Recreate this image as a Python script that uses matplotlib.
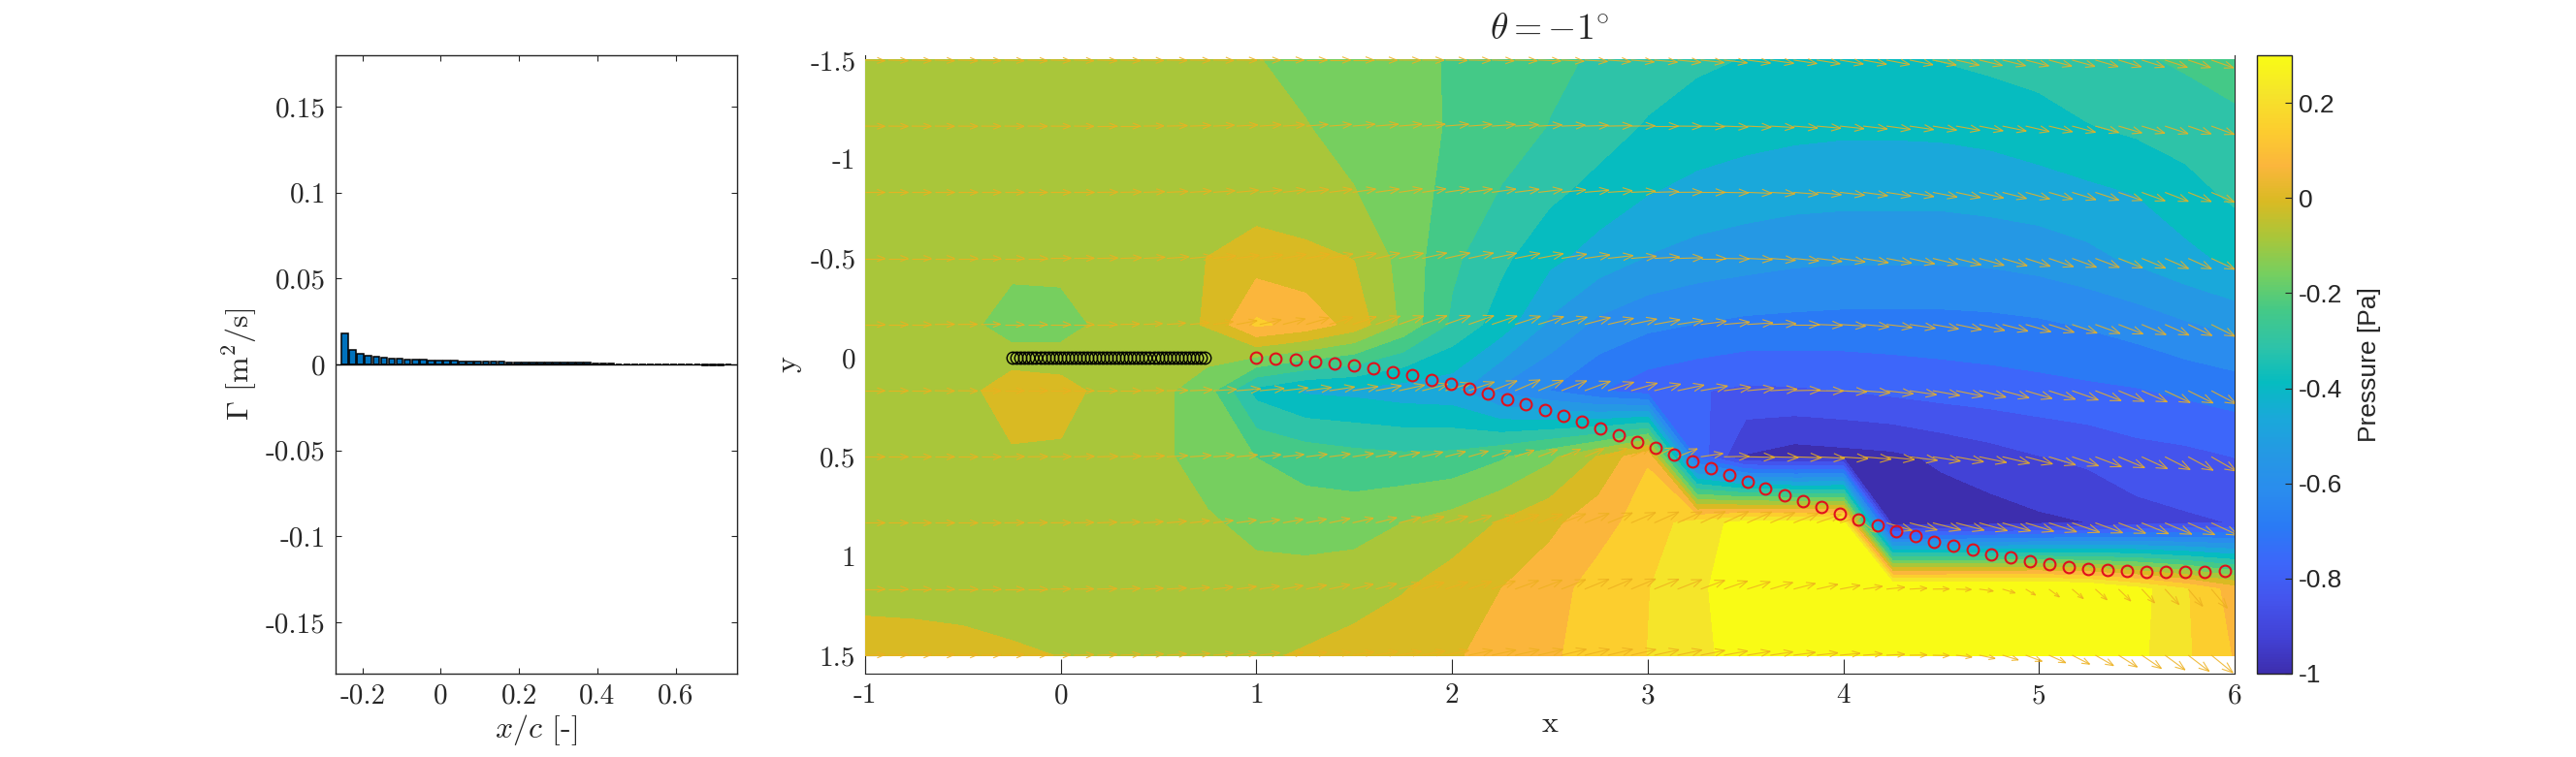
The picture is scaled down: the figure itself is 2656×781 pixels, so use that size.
import numpy as np
import matplotlib
matplotlib.use('Agg')
import matplotlib.pyplot as plt
from matplotlib.collections import LineCollection
from matplotlib.colors import LinearSegmentedColormap, Normalize
from matplotlib.cm import ScalarMappable

W, H = 2656, 781

# Circulation on the plate panels
gamma = [0.0179, 0.0085, 0.0062, 0.0051, 0.0045, 0.0041, 0.0036, 0.0036, 0.0030, 0.0030,
         0.0030, 0.0025, 0.0025, 0.0025, 0.0025, 0.0019, 0.0019, 0.0019, 0.0019, 0.0019,
         0.0019, 0.0014, 0.0014, 0.0014, 0.0014, 0.0014, 0.0011, 0.0011, 0.0011, 0.0011,
         0.0011, 0.0011, 0.0007, 0.0006, 0.0006, 0, 0, 0, 0, 0,
         0, 0, 0, 0, 0, 0, -0.0006, -0.0006, -0.0006, 0]
plate_x = np.linspace(-0.245, 0.735, 50)

# Wake vortices
wake_x = [1.0, 1.099, 1.2, 1.301, 1.4, 1.499, 1.597, 1.696, 1.795, 1.894, 1.992, 2.089, 2.185,
          2.281, 2.377, 2.473, 2.57, 2.663, 2.759, 2.853, 2.946, 3.04, 3.134, 3.23, 3.321, 3.415,
          3.509, 3.603, 3.7, 3.794, 3.888, 3.981, 4.078, 4.175, 4.272, 4.368, 4.462, 4.562, 4.659,
          4.755, 4.855, 4.952, 5.051, 5.151, 5.25, 5.35, 5.449, 5.549, 5.649, 5.748, 5.848, 5.95]
wake_y = [-0.002, 0.004, 0.01, 0.018, 0.029, 0.041, 0.055, 0.074, 0.09, 0.112, 0.133, 0.155, 0.182,
          0.209, 0.237, 0.264, 0.295, 0.325, 0.358, 0.389, 0.423, 0.454, 0.489, 0.524, 0.556, 0.591,
          0.624, 0.659, 0.694, 0.724, 0.755, 0.786, 0.816, 0.845, 0.876, 0.9, 0.927, 0.949, 0.97,
          0.99, 1.009, 1.025, 1.041, 1.054, 1.064, 1.07, 1.076, 1.08, 1.082, 1.082, 1.08, 1.076]

# Pressure field, one list per row
field_x = [-1, -0.75, -0.5, -0.25, 0, 0.25, 0.5, 0.75, 1, 1.25, 1.5, 1.75, 2, 2.25, 2.5, 2.75, 3,
           3.25, 3.5, 3.75, 4, 4.25, 4.5, 4.75, 5, 5.25, 5.5, 5.75, 6]
field_y = [-1.5, -1.167, -0.833, -0.5, -0.167, 0.167, 0.5, 0.833, 1.167, 1.5]
p_row0 = [-.045, -.045, -.045, -.045, -.045, -.045, -.045, -.045, -.08, -.10, -.12, -.14, -.165, -.19, -.22,
          -.245, -.27, -.30, -.315, -.32, -.325, -.32, -.31, -.295, -.28, -.26, -.245, -.225, -.20]
p_row1 = [-.045, -.045, -.045, -.045, -.045, -.045, -.045, -.045, -.055, -.08, -.105, -.135, -.165, -.20, -.238,
          -.275, -.32, -.345, -.36, -.37, -.375, -.375, -.372, -.365, -.345, -.315, -.295, -.275, -.255]
p_row2 = [-.045, -.045, -.045, -.045, -.045, -.045, -.045, -.045, -.045, -.06, -.08, -.125, -.18, -.24, -.295,
          -.34, -.385, -.41, -.425, -.435, -.44, -.44, -.44, -.43, -.42, -.405, -.385, -.34, -.295]
p_row3 = [-.045, -.045, -.045, -.05, -.05, -.045, -.045, -.005, .03, .015, -.008, -.11, -.22, -.295, -.37,
          -.425, -.47, -.495, -.51, -.525, -.53, -.53, -.53, -.525, -.51, -.485, -.45, -.41, -.37]
p_row4 = [-.045, -.045, -.05, -.135, -.125, -.05, -.04, .0, .16, .12, .04, -.10, -.25, -.35, -.48,
          -.56, -.60, -.62, -.635, -.64, -.645, -.645, -.645, -.64, -.63, -.61, -.585, -.55, -.52]
p_row5 = [-.045, -.045, -.04, .05, .03, -.04, -.06, -.13, -.34, -.40, -.41, -.43, -.44, -.56, -.62,
          -.69, -.74, -.765, -.785, -.78, -.77, -.755, -.74, -.73, -.72, -.71, -.70, -.68, -.66]
p_row6 = [-.045, -.045, -.04, -.02, -.02, -.04, -.06, -.13, -.16, -.19, -.21, -.22, -.215, -.17, -.10,
          -.0, .14, -.72, -.93, -.96, -.95, -.94, -.91, -.88, -.85, -.83, -.80, -.79, -.77]
p_row7 = [-.045, -.045, -.045, -.045, -.045, -.045, -.045, -.07, -.11, -.12, -.115, -.082, -.05, .0, .05,
          .12, .18, .26, .33, .34, .33, -.97, -.97, -.96, -.94, -.924, -.88, -.86, -.845]
p_row8 = [-.045, -.045, -.045, -.045, -.045, -.045, -.045, -.045, -.045, -.045, -.035, -.01, .03, .07, .12,
          .175, .22, .28, .36, .42, .45, .45, .45, .45, .45, .42, .33, .23, .11]
p_row9 = [.05, .04, .025, .005, -.008, -.04, -.04, -.03, -.015, .0, .02, .04, .06, .10, .135,
          .18, .224, .275, .34, .37, .37, .37, .37, .37, .37, .36, .32, .235, .14]

# Velocity arrows, hundredths, 60 columns on each of the field rows
u_rows = [
    [85, 85, 85, 85, 85, 85, 85, 85, 85, 85, 85, 86, 86, 87, 87, 88, 88, 89, 90, 90,
     91, 92, 92, 93, 94, 94, 95, 96, 96, 97, 97, 98, 98, 99, 99, 100, 100, 100, 100, 100,
     100, 100, 100, 100, 100, 100, 100, 99, 99, 99, 99, 98, 98, 98, 97, 97, 96, 96, 95, 95],
    [85, 85, 85, 85, 85, 85, 85, 85, 85, 85, 85, 86, 87, 88, 89, 90, 91, 92, 93, 94,
     95, 96, 97, 98, 99, 100, 100, 101, 101, 102, 102, 102, 103, 103, 103, 103, 103, 103, 103, 103,
     103, 103, 103, 103, 103, 103, 102, 102, 102, 102, 101, 101, 100, 100, 100, 99, 99, 98, 98, 97],
    [85, 85, 85, 85, 85, 85, 85, 85, 86, 87, 88, 89, 90, 91, 92, 93, 94, 95, 96, 97,
     98, 99, 100, 100, 101, 102, 102, 103, 103, 104, 104, 104, 105, 105, 105, 105, 105, 105, 105, 105,
     105, 105, 105, 105, 105, 104, 104, 104, 104, 103, 103, 102, 102, 101, 101, 100, 100, 99, 98, 98],
    [85, 85, 85, 85, 85, 85, 86, 86, 87, 87, 88, 90, 92, 94, 95, 96, 97, 98, 99, 100,
     101, 102, 103, 104, 105, 105, 106, 106, 107, 107, 108, 108, 108, 108, 108, 108, 108, 108, 108, 108,
     108, 108, 108, 108, 108, 107, 107, 107, 106, 106, 105, 105, 104, 103, 103, 102, 101, 100, 100, 99],
    [85, 85, 85, 85, 83, 83, 83, 84, 85, 85, 85, 82, 80, 80, 82, 85, 88, 92, 95, 98,
     100, 102, 104, 105, 106, 107, 108, 108, 109, 109, 110, 110, 110, 110, 110, 110, 110, 110, 110, 110,
     110, 110, 110, 110, 110, 110, 110, 109, 109, 109, 108, 108, 107, 106, 105, 104, 103, 102, 101, 100],
    [85, 85, 85, 85, 84, 84, 84, 85, 85, 85, 86, 86, 87, 90, 95, 100, 103, 105, 107, 108,
     108, 109, 110, 110, 110, 110, 110, 108, 108, 108, 108, 110, 111, 112, 113, 114, 115, 115, 115, 115,
     115, 115, 115, 115, 115, 115, 115, 115, 114, 114, 113, 113, 112, 111, 110, 109, 108, 107, 106, 105],
    [85, 85, 85, 85, 85, 85, 86, 86, 87, 87, 88, 88, 89, 89, 90, 90, 90, 90, 90, 90,
     90, 90, 90, 89, 88, 86, 84, 83, 82, 82, 82, 82, 82, 82, 82, 85, 95, 108, 118, 120,
     120, 120, 120, 120, 120, 119, 118, 118, 117, 116, 115, 114, 113, 112, 112, 110, 108, 107, 106, 105],
    [85, 85, 85, 85, 85, 85, 85, 85, 85, 84, 84, 84, 84, 84, 84, 85, 85, 86, 86, 87,
     88, 89, 90, 92, 94, 96, 98, 100, 102, 103, 104, 105, 105, 105, 105, 105, 105, 105, 105, 105,
     105, 105, 95, 55, 110, 118, 120, 120, 120, 120, 120, 119, 118, 117, 116, 115, 115, 114, 114, 113],
    [85, 85, 85, 85, 85, 85, 85, 85, 85, 85, 84, 84, 84, 84, 84, 84, 85, 85, 86, 87,
     88, 89, 90, 92, 94, 96, 98, 100, 101, 102, 103, 104, 105, 105, 105, 104, 103, 101, 99, 96,
     93, 90, 86, 82, 78, 74, 70, 65, 60, 54, 42, 45, 48, 50, 52, 55, 60, 62, 68, 75],
    [85, 85, 85, 85, 85, 85, 85, 85, 85, 85, 85, 85, 85, 85, 85, 85, 86, 86, 87, 88,
     90, 92, 94, 96, 98, 100, 102, 103, 104, 105, 106, 106, 106, 106, 105, 104, 103, 101, 99, 96,
     93, 90, 86, 82, 78, 74, 70, 68, 68, 68, 70, 72, 75, 78, 80, 84, 86, 90, 92, 96],
]
v_rows = [
    [3, 3, 3, 3, 3, 3, 3, 3, 3, 3, 3, 3, 2, 2, 2, 2, 1, 1, 0, 0,
     0, 0, 1, 1, 1, 2, 2, 3, 3, 4, 5, 6, 7, 8, 9, 10, 11, 12, 13, 14,
     15, 16, 17, 18, 19, 20, 21, 22, 23, 24, 25, 26, 27, 28, 29, 30, 31, 32, 33, 34],
    [1, 1, 1, 1, 1, 1, 1, 1, 1, 1, 0, 0, -1, -2, -3, -4, -5, -6, -6, -7,
     -7, -8, -8, -8, -8, -8, -7, -7, -6, -5, -4, -3, -2, -1, 0, 1, 2, 4, 5, 6,
     8, 9, 11, 12, 14, 15, 17, 18, 20, 21, 23, 24, 26, 27, 29, 30, 32, 33, 35, 36],
    [0, 0, 0, 0, 0, 0, 0, 0, 0, 0, -1, -2, -3, -4, -6, -7, -9, -10, -11, -12,
     -13, -14, -14, -15, -15, -15, -14, -14, -13, -12, -11, -9, -7, -5, -3, -1, 0, 2, 4, 6,
     8, 10, 12, 14, 16, 18, 20, 22, 24, 26, 28, 29, 31, 33, 34, 36, 38, 39, 41, 42],
    [0, 0, 0, 0, 0, 0, 0, 0, -1, -1, -2, -3, -5, -7, -9, -11, -13, -15, -17, -18,
     -19, -21, -22, -22, -23, -23, -23, -22, -21, -20, -18, -15, -12, -9, -6, -3, 0, 2, 5, 8,
     10, 13, 15, 18, 20, 23, 25, 27, 29, 31, 33, 35, 37, 38, 40, 41, 43, 44, 46, 47],
    [0, 0, 0, -1, -1, -1, 0, 0, 0, 0, 0, -2, -4, -6, -8, -12, -16, -20, -24, -28,
     -31, -33, -35, -36, -37, -37, -37, -36, -35, -33, -31, -29, -26, -23, -20, -17, -14, -10, -7, -4,
     0, 4, 7, 10, 13, 16, 19, 22, 25, 28, 31, 33, 36, 38, 40, 43, 45, 47, 50, 52],
    [0, 0, 0, 1, 1, 1, 0, 0, 0, 0, 0, 0, -1, -2, -4, -6, -8, -10, -12, -14,
     -16, -18, -21, -24, -28, -32, -37, -42, -46, -44, -42, -40, -36, -32, -28, -24, -20, -15, -11, -7,
     -3, 1, 5, 9, 13, 17, 20, 23, 27, 30, 33, 36, 39, 42, 45, 47, 50, 52, 55, 57],
    [0, 0, 0, 0, 0, 0, -1, -1, -1, -2, -2, -3, -4, -5, -6, -7, -8, -9, -10, -11,
     -12, -14, -16, -18, -20, -22, -24, -26, -28, -30, -32, -34, -36, -38, -38, -34, -14, -2, 2, 3,
     4, 6, 8, 10, 12, 15, 18, 21, 24, 27, 30, 34, 38, 42, 46, 50, 54, 57, 60, 63],
    [0, 0, 0, 0, 0, 0, -1, -1, -1, -2, -3, -4, -5, -7, -9, -10, -12, -13, -15, -16,
     -18, -20, -22, -24, -26, -28, -30, -32, -34, -36, -38, -40, -42, -44, -46, -47, -48, -48, -46, -44,
     -40, -36, -30, 40, 32, 30, 30, 31, 33, 34, 36, 38, 40, 42, 44, 46, 48, 50, 52, 54],
    [0, 0, 0, 0, 0, 0, 0, 0, -1, -1, -2, -3, -4, -5, -7, -9, -11, -13, -15, -17,
     -19, -21, -23, -26, -28, -30, -32, -34, -36, -38, -40, -42, -43, -43, -42, -40, -37, -34, -31, -28,
     -24, -20, -16, -12, -8, -4, -1, 2, 8, 16, 25, 33, 40, 45, 50, 58, 65, 72, 80, 88],
    [-2, -2, -2, -2, -2, -2, -2, -2, -2, -2, -3, -4, -5, -6, -7, -8, -9, -10, -11, -12,
     -13, -14, -15, -16, -18, -20, -21, -22, -23, -24, -25, -25, -25, -24, -23, -22, -20, -18, -16, -14,
     -12, -10, -8, -6, -4, -1, 2, 8, 14, 20, 26, 32, 38, 44, 50, 56, 62, 68, 74, 80],
]

# Colours of the filled bands, bottom to top
band_colors = ['#3d2eae', '#4242d6', '#4454ed', '#3d66fa', '#2a7af5', '#2a8cee', '#2598e4', '#1aa8da', '#06bcc0',
               '#2ec3a8', '#44c987', '#76cf5f', '#a9c63a', '#d9ba23', '#fbb63c', '#fcce2e', '#f5e52a', '#f9fb15']
cbar_ticks = [-1, -0.8, -0.6, -0.4, -0.2, 0, 0.2]
cbar_labels = ['-1', '-0.8', '-0.6', '-0.4', '-0.2', '0', '0.2']

line_col = '#262626'
serif = ['cmr10', 'DejaVu Serif']
plt.rcParams['mathtext.fontset'] = 'cm'
plt.rcParams['axes.unicode_minus'] = False
plt.rcParams['axes.formatter.use_mathtext'] = True


def px_axes(x0, x1, y0, y1):
    return fig.add_axes([x0 / W, 1 - y1 / H, (x1 - x0) / W, (y1 - y0) / H])


def arrow_segments(x, y, u, v):
    segs = []
    for xi, yi, ui, vi in zip(x, y, u, v):
        tip = np.array([xi + ui, yi + vi])
        back = np.array([-ui, -vi]) * 0.42
        for ang in (0.36, -0.36):
            c, s = np.cos(ang), np.sin(ang)
            barb = tip + [c * back[0] - s * back[1], s * back[0] + c * back[1]]
            segs.append([tip, barb])
        segs.append([[xi, yi], tip])
    return segs


fig = plt.figure(figsize=(W / 100, H / 100), dpi=100)

# Gamma bars
ax1 = px_axes(345.5, 760, 57, 695)
ax1.bar(plate_x, gamma, width=0.0165, color='#0072BD', edgecolor='black', linewidth=1.1)
ax1.axhline(0, color='black', lw=1.0)
ax1.set_xlim(-0.27, 0.757)
ax1.set_ylim(-0.18, 0.18)
ax1.set_xticks([-0.2, 0, 0.2, 0.4, 0.6])
ax1.set_xticklabels(['-0.2', '0', '0.2', '0.4', '0.6'], family=serif, fontsize=21)
ax1.set_yticks([-0.15, -0.1, -0.05, 0, 0.05, 0.1, 0.15])
ax1.set_yticklabels(['-0.15', '-0.1', '-0.05', '0', '0.05', '0.1', '0.15'], family=serif, fontsize=21)
ax1.tick_params(direction='in', top=True, right=True, length=4.5, width=0.8, color=line_col,
                labelcolor=line_col, pad=7)
ax1.set_xlabel(r'$x/c$ [-]', family=serif, fontsize=23, color=line_col, labelpad=3)
ax1.set_ylabel(r'$\Gamma$ [m$^2$/s]', family=serif, fontsize=23, color=line_col, labelpad=5)
for s in ax1.spines.values():
    s.set_color(line_col)
    s.set_linewidth(1.0)

# Pressure field
ax2 = px_axes(892, 2304, 57, 695)
levels = list(np.linspace(-1, 0.3, 18)) + [1.0]
field = np.array([p_row0, p_row1, p_row2, p_row3, p_row4, p_row5, p_row6, p_row7, p_row8, p_row9])
cs = ax2.contourf(field_x, field_y, field, levels=levels, colors=band_colors, zorder=1)
cs.set_edgecolor('face')
cs.set_linewidth(0.3)

# velocity arrows
quiver_x = np.linspace(-1, 6, 60)
segs = []
for row_y, u, v in zip(field_y, u_rows, v_rows):
    segs += arrow_segments(quiver_x, [row_y] * 60, np.array(u) * 0.00119, np.array(v) * 0.00119)
ax2.add_collection(LineCollection(segs, colors='#EDB120', linewidths=0.8, alpha=0.85, zorder=3))

ax2.plot(plate_x, [0] * 50, 'o', mfc='none', mec='black', ms=9, mew=1.0, zorder=4)
ax2.plot(wake_x, wake_y, 'o', mfc='none', mec='#E0101C', ms=8.5, mew=1.5, zorder=4)

ax2.set_xlim(-1, 6)
ax2.set_ylim(1.593, -1.524)
ax2.set_xticks(range(-1, 7))
ax2.set_xticklabels(['-1', '0', '1', '2', '3', '4', '5', '6'], family=serif, fontsize=21)
ax2.set_yticks([-1.5, -1, -0.5, 0, 0.5, 1, 1.5])
ax2.set_yticklabels(['-1.5', '-1', '-0.5', '0', '0.5', '1', '1.5'], family=serif, fontsize=21)
ax2.set_axisbelow(True)
ax2.tick_params(direction='in', length=11, width=0.8, color=line_col, labelcolor=line_col, pad=7)
ax2.set_xlabel('x', family=serif, fontsize=23, color=line_col, labelpad=2)
ax2.set_ylabel('y', family=serif, fontsize=23, color=line_col, labelpad=6)
ax2.set_title(r'$\theta = -1^{\circ}$', fontsize=27, color=line_col, pad=12)
ax2.spines['top'].set_visible(False)
for name in ('left', 'right', 'bottom'):
    ax2.spines[name].set_color(line_col)
    ax2.spines[name].set_zorder(0.5)

# Colour bar
cax = px_axes(2327, 2363, 57, 695)
parula = LinearSegmentedColormap.from_list('parula_read', band_colors, N=256)
cb = fig.colorbar(ScalarMappable(norm=Normalize(-1, 0.3), cmap=parula), cax=cax)
cb.set_ticks(cbar_ticks)
cb.set_ticklabels(cbar_labels)
cb.ax.tick_params(direction='in', length=5, width=0.8, color=line_col, labelcolor=line_col,
                  labelsize=19, pad=5)
for lab in cb.ax.get_yticklabels():
    lab.set_family('Liberation Sans')
cb.set_label('Pressure [Pa]', family='Liberation Sans', fontsize=19, color=line_col, labelpad=11)
cb.outline.set_edgecolor(line_col)
cb.outline.set_linewidth(1.0)

fig.savefig('out.png', dpi=100)
